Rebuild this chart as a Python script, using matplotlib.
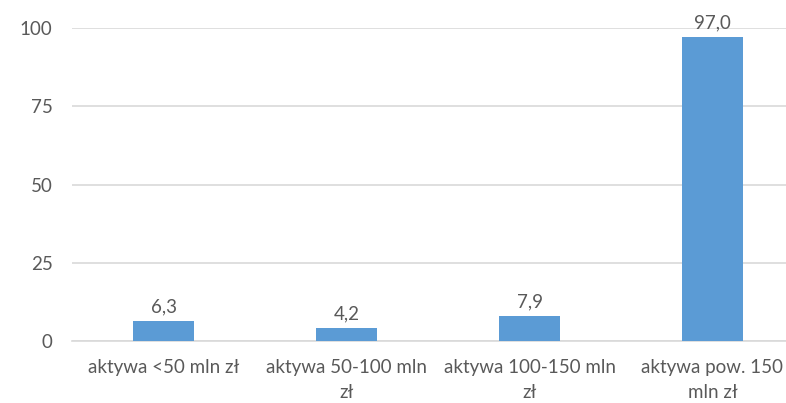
import matplotlib
matplotlib.use("Agg")
import matplotlib.pyplot as plt

categories = ["aktywa <50 mln zł", "aktywa 50-100 mln\nzł", "aktywa 100-150 mln\nzł", "aktywa pow. 150\nmln zł"]
values = [6.3, 4.2, 7.9, 97.0]
yticks = [0, 25, 50, 75, 100]

plt.rcParams['font.family'] = ['Lato', 'DejaVu Sans']
txt = '#595959'
fs = 13.5

fig = plt.figure(figsize=(7.86, 4.03), dpi=100)
ax = fig.add_axes([72/786, 62/403, 732/786, 313/403])
x = list(range(len(categories)))
bars = ax.bar(x, values, width=0.333, color='#5B9BD5', zorder=3)
ax.set_xlim(-0.5, len(categories) - 0.5)
ax.set_ylim(0, 100)
ax.set_yticks(yticks)
ax.set_yticklabels([str(t) for t in yticks], color=txt, fontsize=fs)
ax.set_xticks(x)
ax.set_xticklabels(categories, color=txt, fontsize=fs, linespacing=1.6)
ax.tick_params(axis='y', length=0, pad=14)
ax.tick_params(axis='x', length=0, pad=13)
ax.grid(axis='y', color='#D9D9D9', linewidth=1.2, zorder=0)
for s in ['top', 'right', 'left']:
    ax.spines[s].set_visible(False)
ax.spines['bottom'].set_color('#D9D9D9')
ax.spines['bottom'].set_linewidth(1.2)
for b, v in zip(bars, values):
    ax.annotate(f"{v:.1f}".replace('.', ','), (b.get_x() + b.get_width()/2, v),
                xytext=(0, 4), textcoords='offset points', ha='center', va='bottom',
                color=txt, fontsize=fs, annotation_clip=False)
fig.savefig('out.png', dpi=100)
